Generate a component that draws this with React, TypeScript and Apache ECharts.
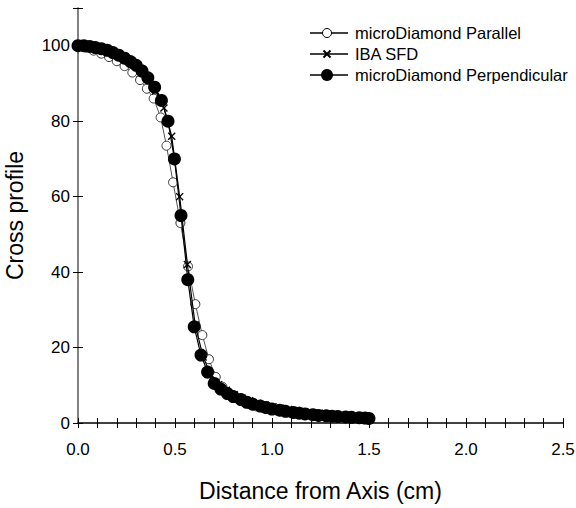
import React, { useEffect, useRef } from "react";
import * as echarts from "echarts";

// microDiamond Parallel (open circles)
const parX = [0.0, 0.04, 0.08, 0.12, 0.16, 0.2, 0.24, 0.28, 0.32, 0.355, 0.39, 0.426, 0.456, 0.49, 0.528, 0.567, 0.605, 0.641, 0.675, 0.71, 0.745, 0.78, 0.815, 0.85, 0.885, 0.92, 0.955, 0.99, 1.025, 1.06, 1.095, 1.13, 1.165, 1.2, 1.235, 1.27, 1.305, 1.34, 1.375, 1.41, 1.445, 1.48, 1.5];
const parY = [100, 99.5, 98.7, 97.9, 97.0, 95.9, 94.6, 92.9, 90.9, 88.6, 86, 81, 73.5, 63.8, 53, 41.5, 31.5, 23.3, 16.9, 12.2, 9.6, 7.9, 6.7, 5.7, 5.0, 4.4, 4.0, 3.6, 3.3, 3.0, 2.7, 2.5, 2.3, 2.1, 2.0, 1.9, 1.8, 1.7, 1.6, 1.5, 1.4, 1.3, 1.2];

// IBA SFD (crosses)
const sfdX = [0.0, 0.04, 0.08, 0.12, 0.16, 0.2, 0.24, 0.28, 0.32, 0.36, 0.4, 0.443, 0.483, 0.524, 0.564, 0.604, 0.645, 0.685, 0.725, 0.765, 0.805, 0.845, 0.885, 0.925, 0.965, 1.005, 1.045, 1.085, 1.125, 1.165, 1.205, 1.245, 1.285, 1.325, 1.365, 1.405, 1.445, 1.485];
const sfdY = [100, 100, 99.7, 99.2, 98.6, 97.8, 97.0, 95.8, 94.0, 91.5, 88, 83.5, 76, 60, 42, 26, 17.5, 12.8, 10.2, 8.7, 7.5, 6.6, 5.9, 5.2, 4.7, 4.3, 3.9, 3.6, 3.3, 3.0, 2.8, 2.6, 2.4, 2.2, 2.0, 1.9, 1.8, 1.6];

// microDiamond Perpendicular (filled circles)
const perpX = [0.0, 0.03, 0.06, 0.09, 0.12, 0.15, 0.18, 0.21, 0.24, 0.27, 0.3, 0.33, 0.36, 0.395, 0.43, 0.464, 0.497, 0.531, 0.566, 0.599, 0.634, 0.668, 0.702, 0.736, 0.77, 0.8, 0.84, 0.87, 0.9, 0.94, 0.97, 1.0, 1.04, 1.07, 1.11, 1.14, 1.17, 1.21, 1.24, 1.28, 1.31, 1.34, 1.38, 1.41, 1.45, 1.48, 1.5];
const perpY = [100, 100, 99.8, 99.5, 99.2, 98.8, 98.2, 97.5, 96.7, 95.8, 94.8, 93.3, 91.5, 89, 85.5, 80, 70, 55, 38, 25.5, 18, 13.5, 10.5, 9.0, 7.8, 7.0, 6.2, 5.5, 5.0, 4.5, 4.1, 3.7, 3.4, 3.1, 2.8, 2.6, 2.4, 2.2, 2.0, 1.9, 1.8, 1.7, 1.6, 1.5, 1.4, 1.3, 1.2];

const seriesNames = ["microDiamond Parallel", "IBA SFD", "microDiamond Perpendicular"];
const xTicks = { min: 0, max: 2.5, interval: 0.5 };
const yTicks = { min: 0, max: 110, interval: 20, lastLabel: 100 };

const FONT = "Arial, 'Liberation Sans', sans-serif";
const CROSS = "path://M0,1.2 L1.2,0 L5,3.8 L8.8,0 L10,1.2 L6.2,5 L10,8.8 L8.8,10 L5,6.2 L1.2,10 L0,8.8 L3.8,5 Z";

const pairs = (xs: number[], ys: number[]) => xs.map((x, i) => [x, ys[i]]);

export default function App() {
  const ref = useRef<HTMLDivElement>(null);
  useEffect(() => {
    if (!ref.current) return;
    const chart = echarts.init(ref.current, undefined, { renderer: "svg" });
    const axisLineGrey = { show: true, lineStyle: { color: "#7a7a7a", width: 1.5 } };
    const tickStyle = { color: "#000", width: 1 };
    const legendRows = [33, 54, 75];
    const lx0 = 310, lx1 = 348, lc = 327;
    const graphics: any[] = [];
    legendRows.forEach((y, i) => {
      graphics.push({ type: "line", shape: { x1: lx0, y1: y, x2: lx1, y2: y }, style: { stroke: "#000", lineWidth: 1.5 }, z: 10 });
      if (i === 0) {
        graphics.push({ type: "circle", shape: { cx: lc, cy: y, r: 4.5 }, style: { fill: "#fff", stroke: "#000", lineWidth: 1 }, z: 11 });
      } else if (i === 1) {
        graphics.push({ type: "line", shape: { x1: lc - 3.5, y1: y - 3.5, x2: lc + 3.5, y2: y + 3.5 }, style: { stroke: "#000", lineWidth: 2 }, z: 11 });
        graphics.push({ type: "line", shape: { x1: lc - 3.5, y1: y + 3.5, x2: lc + 3.5, y2: y - 3.5 }, style: { stroke: "#000", lineWidth: 2 }, z: 11 });
      } else {
        graphics.push({ type: "circle", shape: { cx: lc, cy: y, r: 6 }, style: { fill: "#000" }, z: 11 });
      }
      graphics.push({ type: "text", x: 355, y, style: { text: seriesNames[i], font: `16.5px ${FONT}`, fill: "#000", textVerticalAlign: "middle", verticalAlign: "middle" }, z: 11 });
    });

    chart.setOption({
      animation: false,
      backgroundColor: "#fff",
      grid: { left: 78, right: 13, top: 8, bottom: 85, containLabel: false, outerBoundsMode: "none" },
      xAxis: [
        {
          type: "value", position: "bottom", min: xTicks.min, max: xTicks.max, interval: xTicks.interval,
          name: "Distance from Axis (cm)", nameLocation: "middle", nameGap: 56,
          nameTextStyle: { fontFamily: FONT, fontSize: 23, color: "#000" },
          axisLine: axisLineGrey,
          axisTick: { show: true, inside: true, length: 5, lineStyle: tickStyle },
          minorTick: { show: true, splitNumber: 5, length: 5, lineStyle: tickStyle },
          axisLabel: { fontFamily: FONT, fontSize: 17, color: "#000", margin: 18, formatter: (v: number) => v.toFixed(1) },
          splitLine: { show: false },
        },
        {
          type: "value", position: "top", min: xTicks.min, max: xTicks.max, interval: xTicks.interval,
          axisLine: { show: true, lineStyle: { color: "#222", width: 1.5 } },
          axisTick: { show: true, inside: true, length: 5, lineStyle: tickStyle },
          minorTick: { show: true, splitNumber: 5, length: 5, lineStyle: tickStyle },
          axisLabel: { show: false },
          splitLine: { show: false },
        },
      ],
      yAxis: [
        {
          type: "value", position: "left", min: yTicks.min, max: yTicks.max, interval: yTicks.interval,
          name: "Cross profile", nameLocation: "middle", nameGap: 52,
          nameTextStyle: { fontFamily: FONT, fontSize: 23, color: "#000" },
          axisLine: axisLineGrey,
          axisTick: { show: true, inside: true, length: 5, lineStyle: tickStyle },
          axisLabel: { fontFamily: FONT, fontSize: 17, color: "#000", margin: 8, formatter: (v: number) => (v > yTicks.lastLabel ? "" : String(v)) },
          splitLine: { show: false },
        },
        {
          type: "value", position: "right", min: yTicks.min, max: yTicks.max, interval: yTicks.interval,
          axisLine: axisLineGrey,
          axisTick: { show: true, inside: true, length: 5, lineStyle: tickStyle },
          axisLabel: { show: false },
          splitLine: { show: false },
        },
      ],
      series: [
        {
          name: seriesNames[0], type: "line", data: pairs(parX, parY), xAxisIndex: 0, yAxisIndex: 0,
          symbol: "circle", symbolSize: 9, showAllSymbol: true,
          itemStyle: { color: "#fff", borderColor: "#333", borderWidth: 1 },
          lineStyle: { color: "#555", width: 1 }, z: 2,
        },
        {
          name: seriesNames[1], type: "line", data: pairs(sfdX, sfdY), xAxisIndex: 0, yAxisIndex: 0,
          symbol: CROSS, symbolSize: 8, showAllSymbol: true,
          itemStyle: { color: "#000", borderWidth: 0 },
          lineStyle: { color: "#000", width: 1.2 }, z: 3,
        },
        {
          name: seriesNames[2], type: "line", data: pairs(perpX, perpY), xAxisIndex: 0, yAxisIndex: 0,
          symbol: "circle", symbolSize: 13, showAllSymbol: true,
          itemStyle: { color: "#000" },
          lineStyle: { color: "#000", width: 1.2 }, z: 4,
        },
      ],
      graphic: graphics,
    });
    return () => chart.dispose();
  }, []);
  return <div ref={ref} style={{ position: "fixed", left: 0, top: 0, width: 576, height: 508, background: "#fff" }} />;
}
